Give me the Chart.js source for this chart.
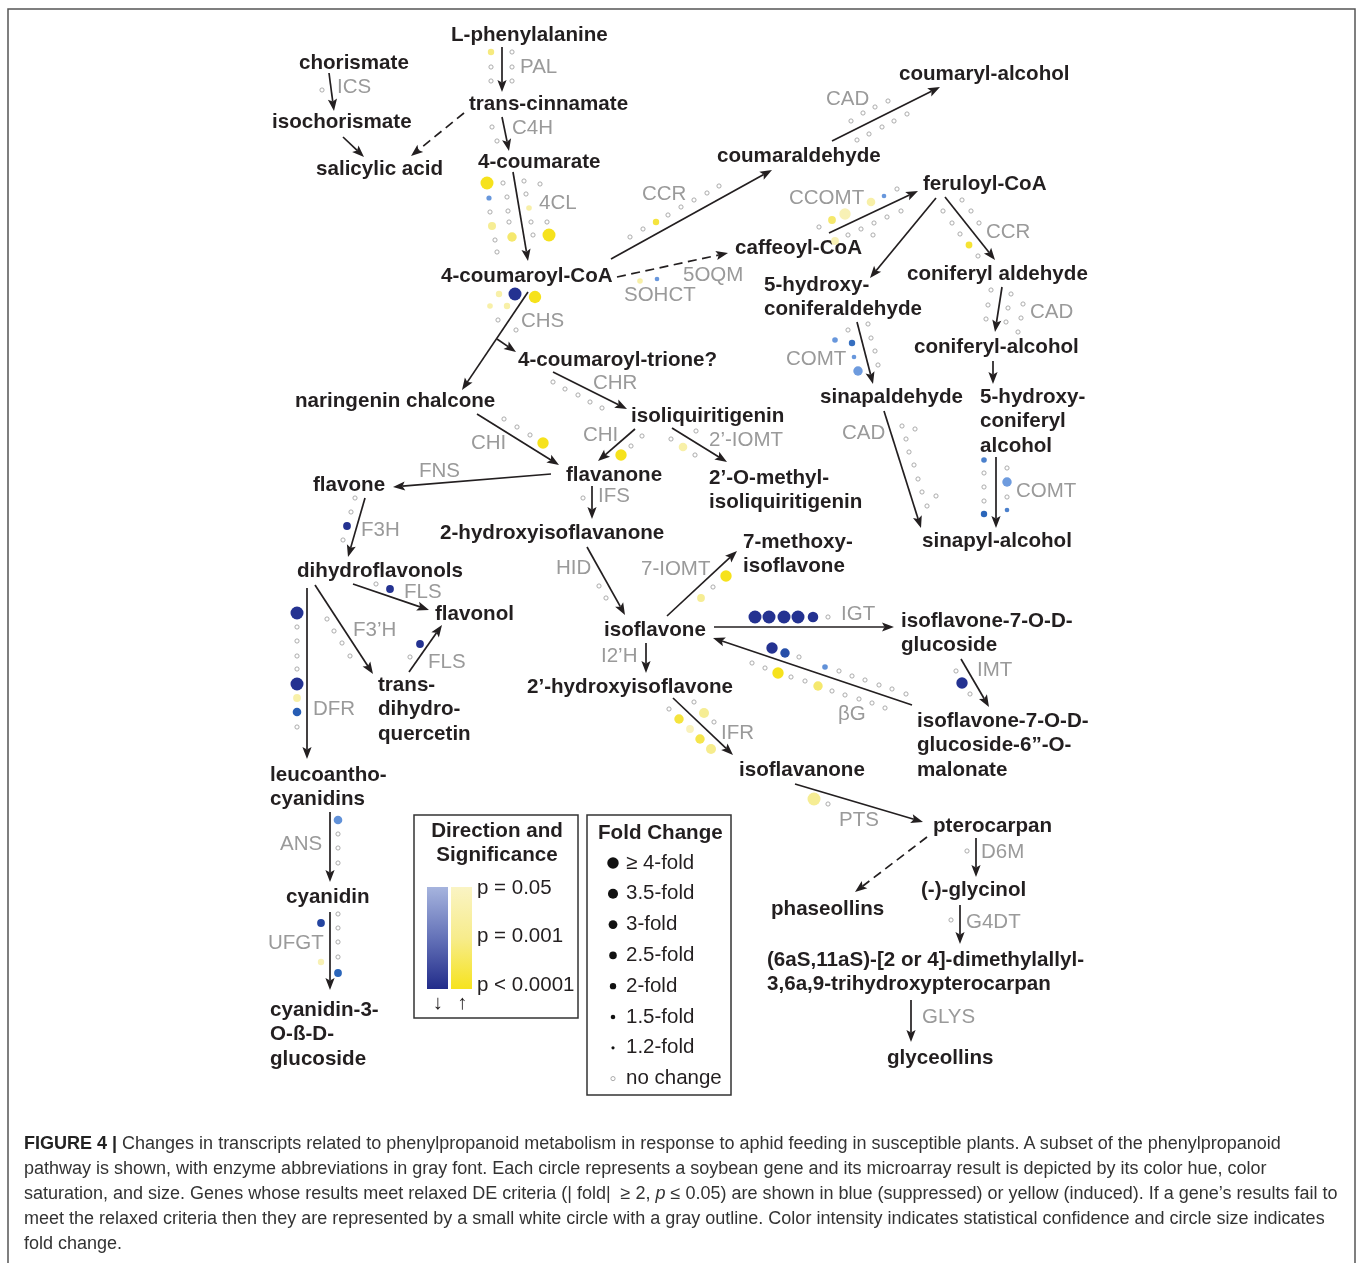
<!DOCTYPE html>
<html>
<head>
<meta charset="utf-8">
<script src="https://cdn.jsdelivr.net/npm/chart.js@4.4.1/dist/chart.umd.min.js"></script>
<style>
  html, body { margin: 0; padding: 0; background: #ffffff; }
  #wrap { position: relative; width: 1358px; height: 1263px; overflow: hidden; }
  #c { position: absolute; left: 0; top: 0; }
  #caption { position: absolute; left: 24px; top: 1131px; font: 18px "Liberation Sans", Arial, sans-serif; line-height: 25px; color: #333; white-space: nowrap; }
  #caption b { color: #222; }
</style>
</head>
<body>
<div id="wrap">
<canvas id="c" width="1358" height="1263"></canvas>
<div id="caption"><b>FIGURE 4 |</b> Changes in transcripts related to phenylpropanoid metabolism in response to aphid feeding in susceptible plants. A subset of the phenylpropanoid<br>pathway is shown, with enzyme abbreviations in gray font. Each circle represents a soybean gene and its microarray result is depicted by its color hue, color<br>saturation, and size. Genes whose results meet relaxed DE criteria (| fold| &nbsp;≥ 2, <i>p</i> ≤ 0.05) are shown in blue (suppressed) or yellow (induced). If a gene’s results fail to<br>meet the relaxed criteria then they are represented by a small white circle with a gray outline. Color intensity indicates statistical confidence and circle size indicates<br>fold change.</div>
</div>
<script>
// ---------------- DATA ----------------
// Metabolites: [name (lines split by \n), x, y]  (diagram coordinates)
const metabolites = [
  ['L-phenylalanine', 451, 35], ['chorismate', 299, 63], ['trans-cinnamate', 469, 104],
  ['isochorismate', 272, 122], ['salicylic acid', 316, 169], ['4-coumarate', 478, 162],
  ['coumaryl-alcohol', 899, 74], ['coumaraldehyde', 717, 156], ['feruloyl-CoA', 923, 184],
  ['caffeoyl-CoA', 735, 248], ['4-coumaroyl-CoA', 441, 276], ['coniferyl aldehyde', 907, 274],
  ['5-hydroxy-\nconiferaldehyde', 764, 285], ['coniferyl-alcohol', 914, 347],
  ['4-coumaroyl-trione?', 518, 360], ['sinapaldehyde', 820, 397],
  ['5-hydroxy-\nconiferyl\nalcohol', 980, 397], ['naringenin chalcone', 295, 401],
  ['isoliquiritigenin', 631, 416], ['flavanone', 566, 475], ['2’-O-methyl-\nisoliquiritigenin', 709, 478],
  ['flavone', 313, 485], ['2-hydroxyisoflavanone', 440, 533], ['7-methoxy-\nisoflavone', 743, 542],
  ['sinapyl-alcohol', 922, 541], ['dihydroflavonols', 297, 571], ['flavonol', 435, 614],
  ['isoflavone-7-O-D-\nglucoside', 901, 621], ['isoflavone', 604, 630],
  ['trans-\ndihydro-\nquercetin', 378, 685], ['2’-hydroxyisoflavone', 527, 687],
  ['isoflavone-7-O-D-\nglucoside-6”-O-\nmalonate', 917, 721], ['isoflavanone', 739, 770],
  ['leucoantho-\ncyanidins', 270, 775], ['pterocarpan', 933, 826], ['(-)-glycinol', 921, 890],
  ['cyanidin', 286, 897], ['phaseollins', 771, 909],
  ['(6aS,11aS)-[2 or 4]-dimethylallyl-\n3,6a,9-trihydroxypterocarpan', 767, 960],
  ['cyanidin-3-\nO-ß-D-\nglucoside', 270, 1010], ['glyceollins', 887, 1058]
];
// Enzyme labels: [abbreviation, x, y]
const enzymes = [
  ['PAL', 520, 67], ['ICS', 337, 87], ['C4H', 512, 128], ['CAD', 826, 99], ['CCR', 642, 194],
  ['CCOMT', 789, 198], ['4CL', 539, 203], ['CCR', 986, 232], ['5OQM', 683, 275], ['SOHCT', 624, 295],
  ['CAD', 1030, 312], ['CHS', 521, 321], ['COMT', 786, 359], ['CHR', 593, 383], ['CAD', 842, 433],
  ['CHI', 471, 443], ['CHI', 583, 435], ['2’-IOMT', 709, 440], ['FNS', 419, 471], ['COMT', 1016, 491],
  ['IFS', 598, 496], ['F3H', 361, 530], ['HID', 556, 568], ['7-IOMT', 641, 569], ['FLS', 404, 592],
  ['IGT', 841, 614], ['F3’H', 353, 630], ['I2’H', 601, 656], ['FLS', 428, 662], ['IMT', 977, 670],
  ['DFR', 313, 709], ['βG', 838, 714], ['IFR', 721, 733], ['PTS', 839, 820], ['ANS', 280, 844],
  ['D6M', 981, 852], ['G4DT', 966, 922], ['UFGT', 268, 943], ['GLYS', 922, 1017]
];
// Reactions: [x1, y1, x2, y2, dashed]
const reactions = [
  [502, 47, 502, 92, 0], [329, 73, 334, 111, 0], [343, 137, 364, 157, 0], [464, 113, 411, 156, 1],
  [502, 117, 509, 151, 0], [513, 172, 528, 261, 0], [611, 259, 772, 170, 0], [832, 141, 940, 87, 0],
  [617, 277, 728, 253, 1], [829, 233, 918, 191, 0], [936, 198, 870, 278, 0], [945, 197, 995, 260, 0],
  [1002, 287, 995, 332, 0], [993, 361, 993, 384, 0], [857, 322, 873, 384, 0], [884, 411, 921, 528, 0],
  [996, 457, 996, 528, 0], [528, 292, 462, 390, 0], [497, 339, 516, 352, 0], [553, 372, 627, 409, 0],
  [477, 414, 559, 465, 0], [635, 429, 598, 461, 0], [672, 428, 727, 462, 0], [551, 474, 393, 487, 0],
  [592, 486, 592, 519, 0], [365, 498, 348, 557, 0], [353, 584, 429, 610, 0], [315, 585, 373, 674, 0],
  [307, 588, 307, 759, 0], [409, 672, 442, 625, 0], [587, 547, 625, 615, 0], [667, 616, 737, 551, 0],
  [714, 627, 894, 627, 0], [912, 705, 713, 638, 0], [961, 659, 989, 707, 0], [646, 643, 646, 673, 0],
  [673, 698, 733, 755, 0], [795, 784, 923, 822, 0], [927, 837, 855, 892, 1], [976, 838, 976, 877, 0],
  [960, 905, 960, 944, 0], [911, 1000, 911, 1042, 0], [330, 812, 330, 882, 0], [330, 912, 330, 990, 0]
];
// Genes: [enzyme, x, y, signed fold change (+ induced / - suppressed), p-value]; fold 1, p 1 = no change
const genes = [
  ['PAL',491,52,1.8,0.005],['PAL',512,52,1,1],['PAL',491,67,1,1],['PAL',512,67,1,1],['PAL',491,81,1,1],['PAL',512,81,1,1],
  ['ICS',322,90,1,1],
  ['C4H',492,127,1,1],['C4H',497,141,1,1],
  ['4CL',487,183,4,0.00005],['4CL',503,183,1,1],['4CL',524,181,1,1],['4CL',540,184,1,1],
  ['4CL',489,198,-1.5,0.005],['4CL',507,197,1,1],['4CL',526,194,1,1],
  ['4CL',529,208,1.6,0.02],['4CL',490,212,1,1],['4CL',508,211,1,1],
  ['4CL',492,226,2.3,0.01],['4CL',509,222,1,1],['4CL',531,222,1,1],['4CL',547,222,1,1],
  ['4CL',512,237,2.8,0.003],['4CL',533,235,1,1],['4CL',549,235,4,0.00005],
  ['4CL',495,240,1,1],['4CL',497,252,1,1],
  ['CHS',499,294,1.8,0.02],['CHS',515,294,-4,0.00005],['CHS',535,297,3.8,0.00005],
  ['CHS',490,306,1.6,0.02],['CHS',507,306,1.8,0.02],['CHS',498,320,1,1],['CHS',516,330,1,1],
  ['CAD',888,101,1,1],['CAD',875,107,1,1],['CAD',863,113,1,1],['CAD',851,121,1,1],['CAD',907,114,1,1],
  ['CAD',894,121,1,1],['CAD',882,127,1,1],['CAD',869,134,1,1],['CAD',857,140,1,1],
  ['CCR',719,186,1,1],['CCR',707,193,1,1],['CCR',694,200,1,1],['CCR',681,207,1,1],['CCR',668,215,1,1],
  ['CCR',656,222,1.8,0.0005],['CCR',643,229,1,1],['CCR',630,237,1,1],
  ['CCOMT',845,214,3.5,0.03],['CCOMT',871,202,2.5,0.02],['CCOMT',884,196,-1.4,0.005],['CCOMT',897,189,1,1],
  ['CCOMT',832,220,2.2,0.003],['CCOMT',819,227,1,1],['CCOMT',835,241,2.2,0.03],
  ['CCOMT',848,235,1,1],['CCOMT',861,229,1,1],['CCOMT',874,223,1,1],['CCOMT',887,217,1,1],['CCOMT',901,211,1,1],['CCOMT',873,235,1,1],
  ['SOHCT',640,281,1.6,0.02],['SOHCT',657,279,-1.4,0.005],
  ['CCR',962,200,1,1],['CCR',943,211,1,1],['CCR',971,211,1,1],['CCR',952,223,1,1],['CCR',979,223,1,1],
  ['CCR',960,234,1,1],['CCR',969,245,1.9,0.0003],['CCR',978,256,1,1],
  ['CAD',991,290,1,1],['CAD',1011,294,1,1],['CAD',988,305,1,1],['CAD',1008,308,1,1],['CAD',1023,304,1,1],
  ['CAD',986,319,1,1],['CAD',1006,322,1,1],['CAD',1021,318,1,1],['CAD',1018,332,1,1],
  ['COMT',835,340,-1.6,0.005],['COMT',852,343,-1.8,0.001],['COMT',848,330,1,1],['COMT',868,324,1,1],['COMT',871,338,1,1],
  ['COMT',854,357,-1.4,0.005],['COMT',875,351,1,1],['COMT',858,371,-2.8,0.006],['COMT',878,365,1,1],
  ['CHR',553,382,1,1],['CHR',565,389,1,1],['CHR',578,395,1,1],['CHR',590,402,1,1],['CHR',602,408,1,1],
  ['CHI',504,419,1,1],['CHI',517,427,1,1],['CHI',530,435,1,1],['CHI',543,443,3.5,0.00005],
  ['CHI',642,436,1,1],['CHI',631,446,1,1],['CHI',621,455,3.5,0.00005],
  ['2’-IOMT',671,439,1,1],['2’-IOMT',683,447,2.5,0.02],['2’-IOMT',695,455,1,1],['2’-IOMT',696,431,1,1],
  ['CAD',902,426,1,1],['CAD',915,429,1,1],['CAD',906,439,1,1],['CAD',909,452,1,1],['CAD',914,465,1,1],
  ['CAD',918,479,1,1],['CAD',922,492,1,1],['CAD',936,496,1,1],['CAD',927,506,1,1],
  ['COMT',984,460,-1.6,0.002],['COMT',984,473,1,1],['COMT',984,487,1,1],['COMT',984,501,1,1],['COMT',984,514,-1.8,0.0007],
  ['COMT',1007,468,1,1],['COMT',1007,482,-2.8,0.006],['COMT',1007,497,1,1],['COMT',1007,510,-1.4,0.002],
  ['IFS',583,498,1,1],
  ['F3H',355,498,1,1],['F3H',351,512,1,1],['F3H',347,526,-2.2,0.0001],['F3H',343,540,1,1],
  ['FLS',376,584,1,1],['FLS',390,589,-2.2,0.0001],
  ['HID',599,586,1,1],['HID',606,598,1,1],
  ['7-IOMT',726,576,3.5,0.0001],['7-IOMT',713,587,1,1],['7-IOMT',701,598,2.2,0.01],
  ['DFR',297,613,-4,0.00005],['DFR',297,627,1,1],['DFR',297,641,1,1],['DFR',297,656,1,1],['DFR',297,669,1,1],
  ['DFR',297,684,-4,0.00005],['DFR',297,698,2.2,0.02],['DFR',297,712,-2.5,0.0005],['DFR',297,727,1,1],
  ['F3’H',327,619,1,1],['F3’H',334,631,1,1],['F3’H',342,643,1,1],['F3’H',350,656,1,1],
  ['FLS',420,644,-2.2,0.0001],['FLS',410,657,1,1],
  ['IGT',755,617,-4,0.00005],['IGT',769,617,-4,0.00005],['IGT',784,617,-4,0.00005],['IGT',798,617,-4,0.00005],
  ['IGT',813,617,-3.2,0.00005],['IGT',828,617,1,1],
  ['βG',772,648,-3.5,0.00005],['βG',785,653,-2.8,0.0003],['βG',799,657,1,1],['βG',825,667,-1.6,0.004],
  ['βG',839,671,1,1],['βG',852,676,1,1],['βG',865,680,1,1],['βG',879,685,1,1],['βG',892,689,1,1],['βG',906,694,1,1],
  ['βG',752,663,1,1],['βG',765,668,1,1],['βG',778,673,3.5,0.0001],['βG',791,677,1,1],['βG',805,681,1,1],
  ['βG',818,686,2.8,0.003],['βG',832,691,1,1],['βG',845,695,1,1],['βG',859,699,1,1],['βG',872,703,1,1],['βG',885,708,1,1],
  ['IMT',956,671,1,1],['IMT',962,683,-3.5,0.00005],['IMT',970,694,1,1],
  ['IFR',669,709,1,1],['IFR',694,702,1,1],['IFR',704,713,3,0.01],['IFR',679,719,2.8,0.0005],
  ['IFR',690,729,2.2,0.04],['IFR',714,722,1,1],['IFR',700,739,2.8,0.001],['IFR',711,749,3,0.008],
  ['PTS',814,799,4,0.01],['PTS',828,804,1,1],
  ['D6M',967,851,1,1],
  ['G4DT',951,920,1,1],
  ['ANS',338,820,-2.5,0.004],['ANS',338,834,1,1],['ANS',338,848,1,1],['ANS',338,863,1,1],
  ['UFGT',338,914,1,1],['UFGT',338,928,1,1],['UFGT',338,942,1,1],['UFGT',338,957,1,1],
  ['UFGT',321,923,-2.2,0.0002],['UFGT',321,962,1.8,0.03],['UFGT',338,973,-2.2,0.0007]
];
// Legend content
const foldLegendLabels = ['≥ 4-fold', '3.5-fold', '3-fold', '2.5-fold', '2-fold', '1.5-fold', '1.2-fold', 'no change'];
const foldLegendValues = [4, 3.5, 3, 2.5, 2, 1.5, 1.2, 1];
const pLegendLabels = ['p = 0.05', 'p = 0.001', 'p < 0.0001'];

// ---------------- ENCODING ----------------
const foldSteps = [1.2, 1.5, 2, 2.5, 3, 3.5, 4];
const radiusSteps = [1.8, 2.6, 3.6, 4.3, 5.0, 5.7, 6.5];
function radiusFor(fold, changed) {
  if (!changed) return 2.1;
  const f = Math.abs(fold);
  if (f <= foldSteps[0]) return radiusSteps[0];
  for (let i = 1; i < foldSteps.length; i++) {
    if (f <= foldSteps[i]) {
      const t = (f - foldSteps[i-1]) / (foldSteps[i] - foldSteps[i-1]);
      return radiusSteps[i-1] + t * (radiusSteps[i] - radiusSteps[i-1]);
    }
  }
  return radiusSteps[radiusSteps.length - 1];
}
const blueStops = [[0, [170,190,235]], [0.35, [108,154,222]], [0.7, [40,100,185]], [1, [36,50,145]]];
const yellowStops = [[0, [249,243,196]], [0.3, [246,236,140]], [0.6, [245,229,80]], [1, [246,226,28]]];
function lerpStops(stops, t) {
  for (let i = 1; i < stops.length; i++) {
    if (t <= stops[i][0]) {
      const a = stops[i-1], b = stops[i], u = (t - a[0]) / (b[0] - a[0]);
      const c = a[1].map((v, k) => Math.round(v + u * (b[1][k] - v)));
      return `rgb(${c[0]},${c[1]},${c[2]})`;
    }
  }
  const c = stops[stops.length-1][1];
  return `rgb(${c[0]},${c[1]},${c[2]})`;
}
function geneColor(fold, p) {
  const s = -Math.log10(p);
  const t = Math.max(0, Math.min(1, (s - 1.301) / (4 - 1.301)));
  return lerpStops(fold < 0 ? blueStops : yellowStops, t);
}

// ---------------- DRAWING ----------------
const INK = '#231f20', GRAY = '#9a9a9a';
const BOLD = 'bold 20.6px "Liberation Sans", Arial, sans-serif';
const NORMAL = '20.5px "Liberation Sans", Arial, sans-serif';

function drawArrow(ctx, x1, y1, x2, y2, dashed) {
  const a = Math.atan2(y2 - y1, x2 - x1), ca = Math.cos(a), sa = Math.sin(a);
  const L = 12, W = 4.6, N = 9.5;
  ctx.strokeStyle = INK; ctx.fillStyle = INK; ctx.lineWidth = 1.7;
  ctx.setLineDash(dashed ? [9, 5.5] : []);
  ctx.beginPath(); ctx.moveTo(x1, y1); ctx.lineTo(x2 - N * ca, y2 - N * sa); ctx.stroke();
  ctx.setLineDash([]);
  const bx = x2 - L * ca, by = y2 - L * sa;
  ctx.beginPath();
  ctx.moveTo(x2, y2);
  ctx.lineTo(bx - W * sa, by + W * ca);
  ctx.lineTo(x2 - N * ca, y2 - N * sa);
  ctx.lineTo(bx + W * sa, by - W * ca);
  ctx.closePath(); ctx.fill();
}

const diagramPlugin = {
  id: 'diagram',
  beforeDatasetsDraw(chart) {
    const { ctx, scales: { x, y } } = chart;
    const X = v => x.getPixelForValue(v), Y = v => y.getPixelForValue(v);
    ctx.save();
    // figure frame
    ctx.strokeStyle = '#555'; ctx.lineWidth = 1.5;
    ctx.beginPath();
    ctx.moveTo(X(8), Y(1263)); ctx.lineTo(X(8), Y(9)); ctx.lineTo(X(1355), Y(9)); ctx.lineTo(X(1355), Y(1263));
    ctx.stroke();
    // reactions
    reactions.forEach(r => drawArrow(ctx, X(r[0]), Y(r[1]), X(r[2]), Y(r[3]), r[4]));
    // metabolites
    ctx.textBaseline = 'middle'; ctx.textAlign = 'left';
    ctx.font = BOLD; ctx.fillStyle = INK;
    metabolites.forEach(([name, mx, my]) => {
      name.split('\n').forEach((line, i) => ctx.fillText(line, X(mx), Y(my + i * 24.5)));
    });
    // enzymes
    ctx.font = NORMAL; ctx.fillStyle = GRAY;
    enzymes.forEach(([name, ex, ey]) => ctx.fillText(name, X(ex), Y(ey)));

    // legend: direction and significance
    ctx.strokeStyle = '#333'; ctx.lineWidth = 1.5;
    ctx.strokeRect(X(414), Y(815), X(578) - X(414), Y(1018) - Y(815));
    ctx.strokeRect(X(587), Y(815), X(731) - X(587), Y(1095) - Y(815));
    ctx.fillStyle = INK; ctx.font = BOLD; ctx.textAlign = 'center';
    ctx.fillText('Direction and', X(497), Y(831));
    ctx.fillText('Significance', X(497), Y(855));
    let g = ctx.createLinearGradient(0, Y(887), 0, Y(989));
    g.addColorStop(0, 'rgb(166,180,222)'); g.addColorStop(0.5, 'rgb(100,114,184)'); g.addColorStop(1, 'rgb(34,44,138)');
    ctx.fillStyle = g; ctx.fillRect(X(427), Y(887), X(448) - X(427), Y(989) - Y(887));
    g = ctx.createLinearGradient(0, Y(887), 0, Y(989));
    g.addColorStop(0, 'rgb(250,244,196)'); g.addColorStop(0.5, 'rgb(247,236,140)'); g.addColorStop(1, 'rgb(246,227,30)');
    ctx.fillStyle = g; ctx.fillRect(X(451), Y(887), X(472) - X(451), Y(989) - Y(887));
    ctx.fillStyle = INK; ctx.font = NORMAL; ctx.textAlign = 'left';
    pLegendLabels.forEach((t, i) => ctx.fillText(t, X(477), Y(888 + i * 48.5)));
    ctx.textAlign = 'center';
    ctx.fillText('↓', X(437.5), Y(1003));
    ctx.fillText('↑', X(462), Y(1003));
    // legend: fold change
    ctx.textAlign = 'left'; ctx.font = BOLD;
    ctx.fillText('Fold Change', X(598), Y(833));
    ctx.font = NORMAL;
    foldLegendLabels.forEach((t, i) => ctx.fillText(t, X(626), Y(863 + i * 30.8)));
    ctx.restore();
  }
};

const geneData = genes.map(([enz, gx, gy, fold, p]) => {
  const changed = p <= 0.05;
  return { x: gx, y: gy, r: radiusFor(fold, changed), fold: fold, p: p, enzyme: enz };
});
const legendData = foldLegendValues.map((f, i) => ({
  x: 613, y: 863 + i * 30.8, r: f > 1 ? radiusFor(f, true) * 0.88 : 2.1, fold: f, p: f > 1 ? 0 : 1
}));

new Chart(document.getElementById('c'), {
  type: 'bubble',
  data: {
    datasets: [
      {
        label: 'Genes',
        data: geneData,
        backgroundColor: c => c.raw && c.raw.p <= 0.05 ? geneColor(c.raw.fold, c.raw.p) : '#ffffff',
        borderColor: c => c.raw && c.raw.p <= 0.05 ? 'rgba(0,0,0,0)' : '#a3a3a3',
        borderWidth: c => c.raw && c.raw.p <= 0.05 ? 0 : 0.9
      },
      {
        label: 'Fold legend',
        data: legendData,
        backgroundColor: c => c.raw && c.raw.p <= 0.05 ? '#111111' : '#ffffff',
        borderColor: c => c.raw && c.raw.p <= 0.05 ? 'rgba(0,0,0,0)' : '#a3a3a3',
        borderWidth: c => c.raw && c.raw.p <= 0.05 ? 0 : 0.9
      }
    ]
  },
  options: {
    responsive: false,
    animation: false,
    devicePixelRatio: 1,
    events: [],
    layout: { padding: 0, autoPadding: false },
    plugins: { legend: { display: false }, tooltip: { enabled: false } },
    scales: {
      x: { type: 'linear', min: 0, max: 1358, display: false },
      y: { type: 'linear', min: 0, max: 1263, reverse: true, display: false }
    }
  },
  plugins: [diagramPlugin]
});
</script>
</body>
</html>
